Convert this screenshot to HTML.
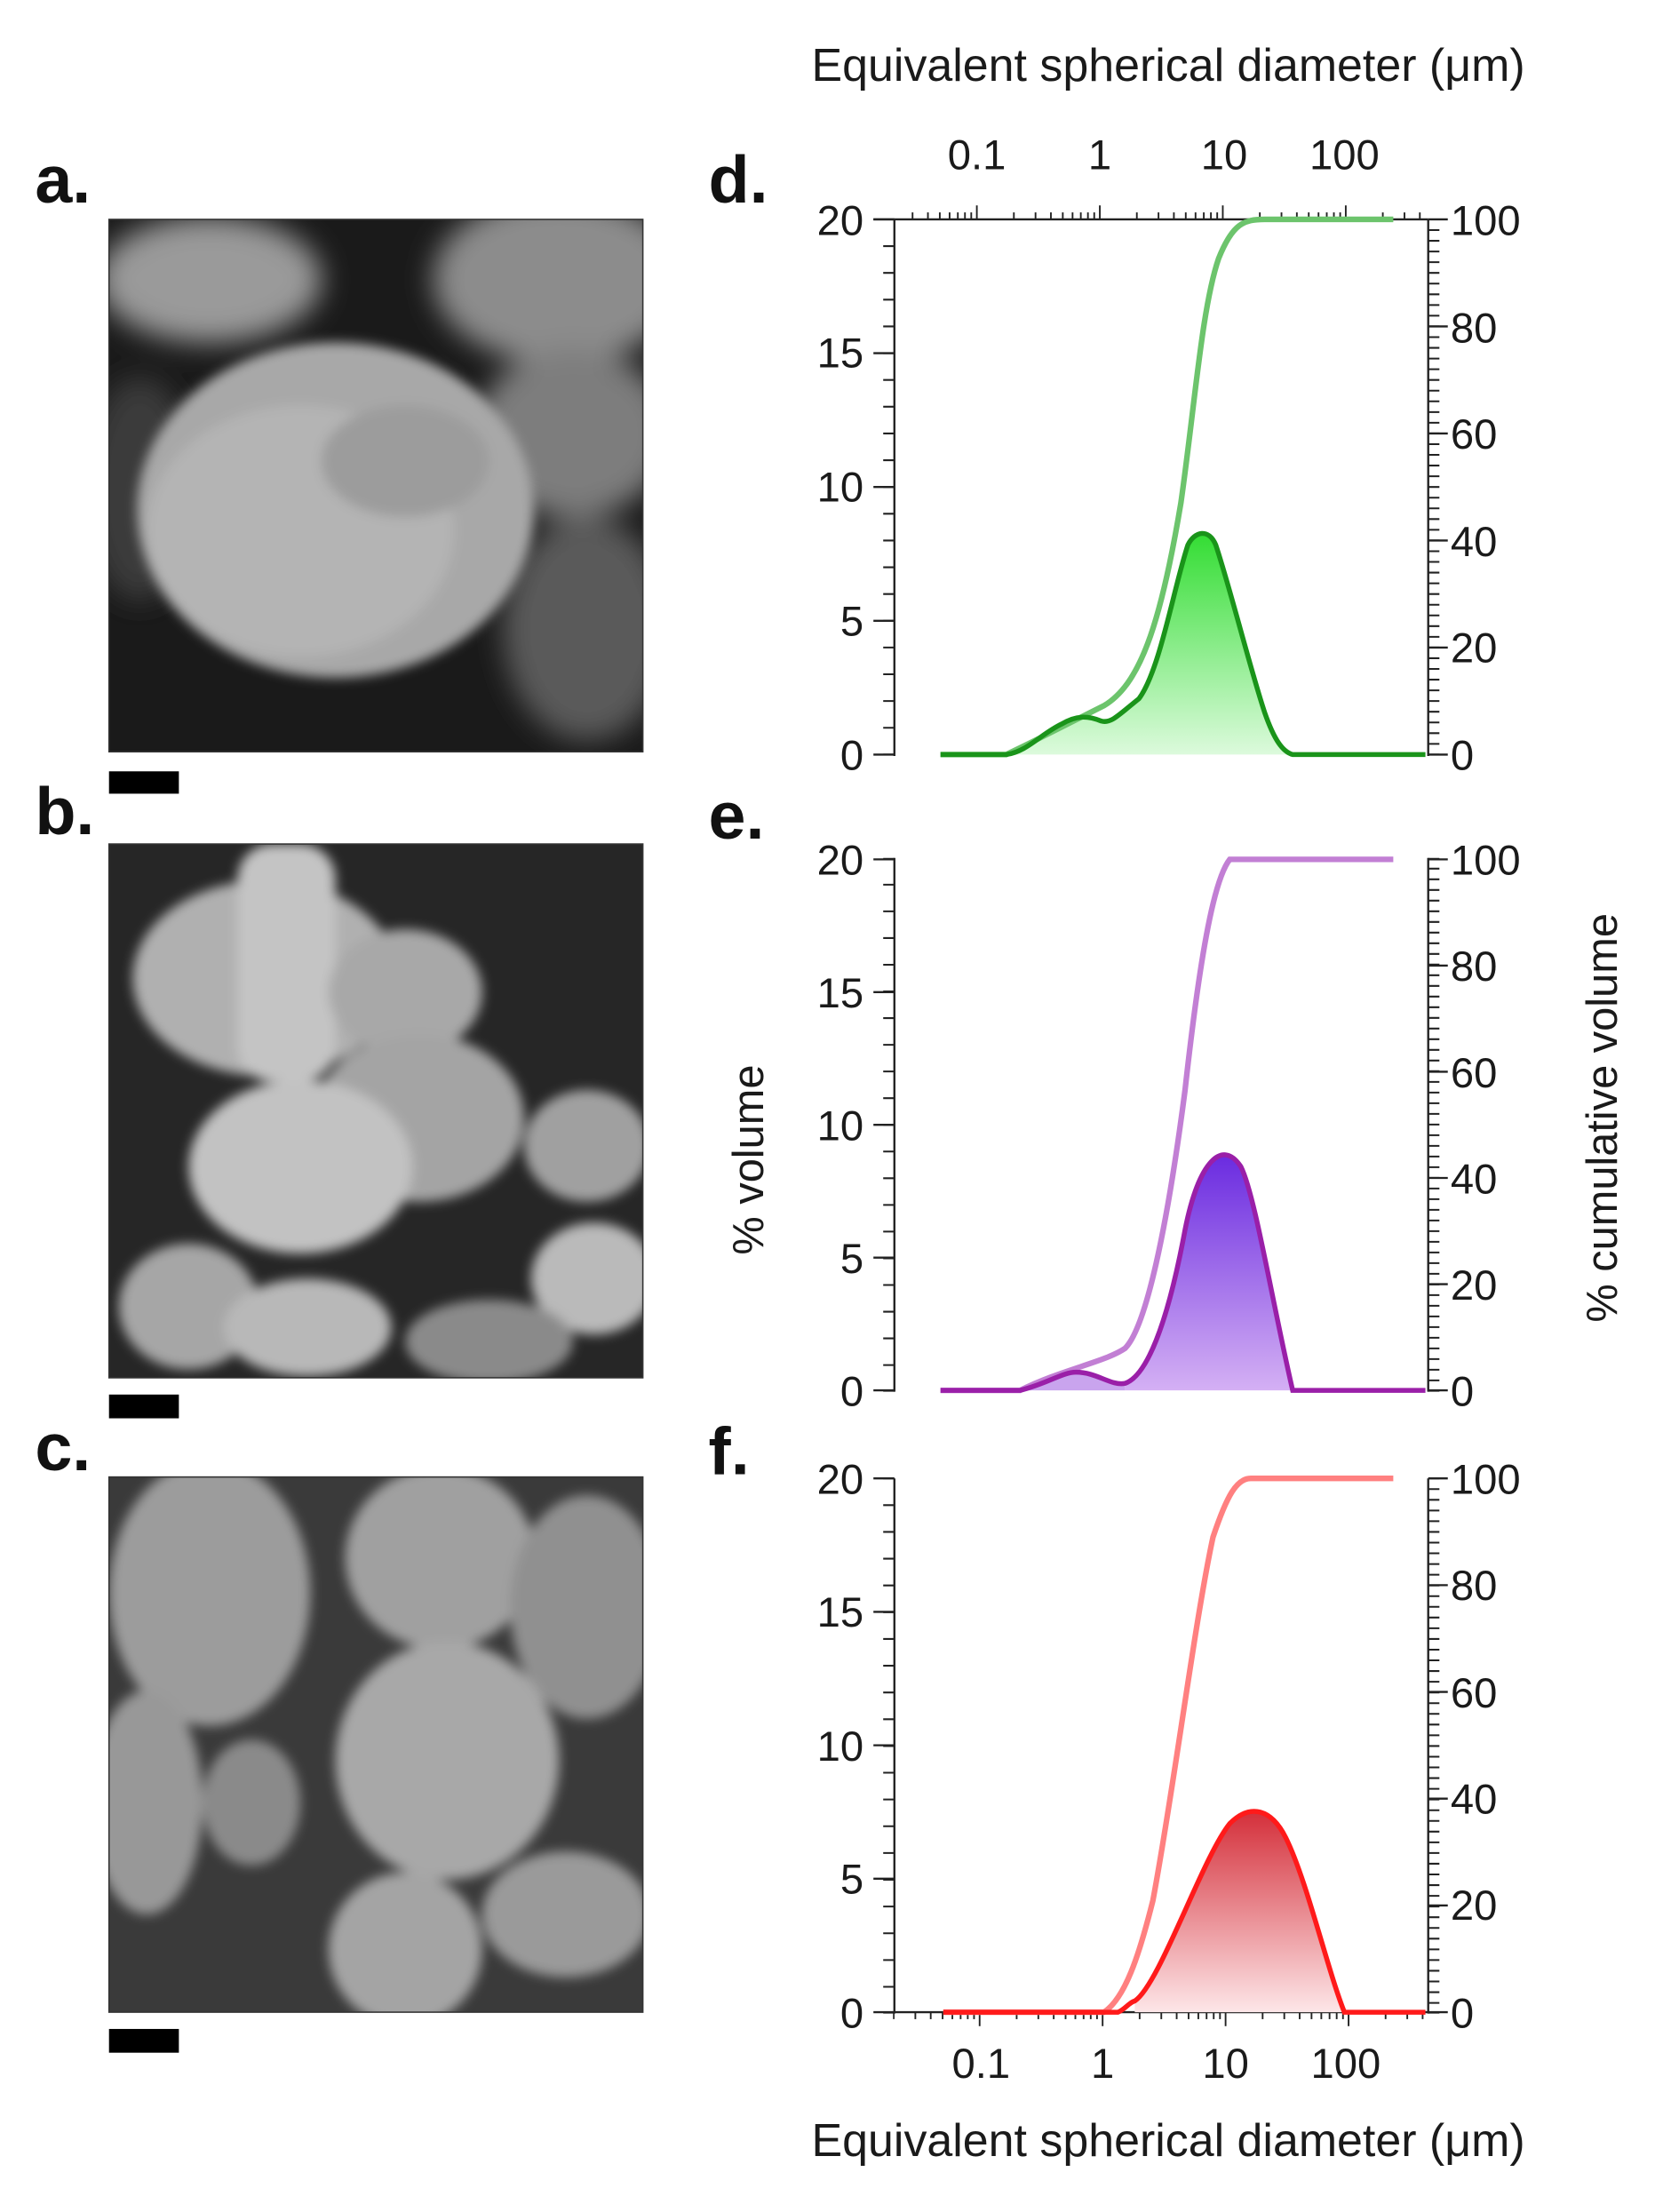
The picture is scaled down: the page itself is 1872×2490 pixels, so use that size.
<!DOCTYPE html>
<html><head><meta charset="utf-8"><style>
html,body{margin:0;padding:0;background:#fff;}
svg{display:block;}
text{font-family:"Liberation Sans",sans-serif;fill:#1a1a1a;}
</style></head><body>
<svg width="1872" height="2490" viewBox="0 0 1190 1583" preserveAspectRatio="none" xmlns="http://www.w3.org/2000/svg">
<defs>
<filter id="bl" x="-20%" y="-20%" width="140%" height="140%"><feGaussianBlur stdDeviation="4"/></filter>
<filter id="bl2"><feGaussianBlur stdDeviation="10"/></filter>
<linearGradient id="gG" x1="0" y1="0" x2="0" y2="1"><stop offset="0" stop-color="#33dd33"/><stop offset="1" stop-color="#dcfadc"/></linearGradient>
<linearGradient id="gP" x1="0" y1="0" x2="0" y2="1"><stop offset="0" stop-color="#6a2be0"/><stop offset="1" stop-color="#d4b0f4"/></linearGradient>
<linearGradient id="gR" x1="0" y1="0" x2="0" y2="1"><stop offset="0" stop-color="#d42f3a"/><stop offset="1" stop-color="#fde6e8"/></linearGradient>
<clipPath id="ca"><rect x="78" y="157" width="382" height="381"/></clipPath>
<clipPath id="cb"><rect x="78" y="604" width="382" height="382"/></clipPath>
<clipPath id="cc"><rect x="78" y="1057" width="382" height="383"/></clipPath>
<g id="dec" stroke="#222" stroke-width="1.2">
<line x1="26.5" y1="0" x2="26.5" y2="5"/><line x1="42" y1="0" x2="42" y2="5"/><line x1="53" y1="0" x2="53" y2="5"/><line x1="61.5" y1="0" x2="61.5" y2="5"/><line x1="68.5" y1="0" x2="68.5" y2="5"/><line x1="74.4" y1="0" x2="74.4" y2="5"/><line x1="79.5" y1="0" x2="79.5" y2="5"/><line x1="84" y1="0" x2="84" y2="5"/><line x1="88" y1="0" x2="88" y2="10"/>
</g>
<clipPath id="cx"><rect x="639" y="0" width="384" height="1583"/></clipPath>
</defs>

<!-- SEM a -->
<g clip-path="url(#ca)">
<rect x="78" y="157" width="382" height="381" fill="#1a1a1a"/>
<g filter="url(#bl2)">
<ellipse cx="150" cy="200" rx="80" ry="45" fill="#9a9a9a"/>
<ellipse cx="400" cy="200" rx="90" ry="60" fill="#8c8c8c"/>
<ellipse cx="410" cy="310" rx="70" ry="60" fill="#7d7d7d"/>
<ellipse cx="420" cy="450" rx="60" ry="80" fill="#5a5a5a"/>
<ellipse cx="100" cy="350" rx="40" ry="80" fill="#3a3a3a"/>
</g>
<g filter="url(#bl)">
<ellipse cx="240" cy="365" rx="142" ry="120" fill="#a8a8a8"/>
<ellipse cx="215" cy="380" rx="110" ry="90" fill="#b4b4b4"/>
<ellipse cx="290" cy="330" rx="60" ry="40" fill="#9c9c9c"/>
</g>
</g>
<rect x="78" y="157" width="382" height="381" fill="none" stroke="#333" stroke-width="1"/>
<rect x="78" y="552" width="50" height="16" fill="#000"/>

<!-- SEM b -->
<g clip-path="url(#cb)">
<rect x="78" y="604" width="382" height="382" fill="#262626"/>
<g filter="url(#bl)">
<ellipse cx="190" cy="700" rx="95" ry="70" fill="#b0b0b0"/>
<rect x="170" y="604" width="70" height="170" rx="25" fill="#c4c4c4"/>
<ellipse cx="290" cy="710" rx="55" ry="45" fill="#a8a8a8"/>
<ellipse cx="300" cy="800" rx="75" ry="60" fill="#a4a4a4"/>
<ellipse cx="215" cy="835" rx="80" ry="62" fill="#c2c2c2"/>
<ellipse cx="420" cy="820" rx="45" ry="40" fill="#a0a0a0"/>
<ellipse cx="425" cy="915" rx="45" ry="40" fill="#bababa"/>
<ellipse cx="135" cy="935" rx="50" ry="45" fill="#a6a6a6"/>
<ellipse cx="220" cy="950" rx="60" ry="35" fill="#b8b8b8"/>
<ellipse cx="350" cy="960" rx="60" ry="30" fill="#8a8a8a"/>
</g>
</g>
<rect x="78" y="604" width="382" height="382" fill="none" stroke="#333" stroke-width="1"/>
<rect x="78" y="998" width="50" height="17" fill="#000"/>

<!-- SEM c -->
<g clip-path="url(#cc)">
<rect x="78" y="1057" width="382" height="383" fill="#3a3a3a"/>
<g filter="url(#bl)">
<ellipse cx="150" cy="1140" rx="72" ry="95" fill="#9c9c9c"/>
<ellipse cx="315" cy="1115" rx="68" ry="65" fill="#a0a0a0"/>
<ellipse cx="420" cy="1150" rx="55" ry="80" fill="#909090"/>
<ellipse cx="105" cy="1290" rx="40" ry="80" fill="#989898"/>
<ellipse cx="180" cy="1290" rx="35" ry="45" fill="#8a8a8a"/>
<ellipse cx="320" cy="1260" rx="80" ry="85" fill="#a8a8a8"/>
<ellipse cx="290" cy="1395" rx="55" ry="55" fill="#a4a4a4"/>
<ellipse cx="405" cy="1370" rx="60" ry="45" fill="#9a9a9a"/>
</g>
</g>
<rect x="78" y="1057" width="382" height="383" fill="none" stroke="#333" stroke-width="1"/>
<rect x="78" y="1452" width="50" height="17" fill="#000"/>

<g font-weight="bold" font-size="48">
<text x="25" y="145" style="fill:#111">a.</text>
<text x="25" y="597" style="fill:#111">b.</text>
<text x="25" y="1052" style="fill:#111">c.</text>
<text x="507" y="145" style="fill:#111">d.</text>
<text x="507" y="600" style="fill:#111">e.</text>
<text x="507" y="1055" style="fill:#111">f.</text>
</g>

<text x="836" y="58" font-size="33" text-anchor="middle">Equivalent spherical diameter (μm)</text>
<text x="836" y="1543" font-size="33" text-anchor="middle">Equivalent spherical diameter (μm)</text>
<text transform="translate(546,830) rotate(-90)" font-size="31" text-anchor="middle">% volume</text>
<text transform="translate(1157,800) rotate(-90)" font-size="31" text-anchor="middle">%  cumulative volume</text>

<g stroke="#222" fill="none">
 <line x1="640" y1="157" x2="640" y2="541" stroke-width="1.5"/>
 <line x1="1022" y1="157" x2="1022" y2="541" stroke-width="1.5"/>
 <line x1="625" y1="157" x2="1022" y2="157" stroke-width="1.5"/>
 <line x1="636" y1="157" x2="636" y2="541" stroke-width="8" stroke-dasharray="1.3 17.85" stroke-dashoffset="0.65"/>
 <line x1="1026" y1="157" x2="1026" y2="541" stroke-width="8" stroke-dasharray="1.3 6.36" stroke-dashoffset="0.65"/>
 <line x1="640" y1="614" x2="640" y2="996" stroke-width="1.5"/>
 <line x1="1022" y1="614" x2="1022" y2="996" stroke-width="1.5"/>
 <line x1="636" y1="614" x2="636" y2="996" stroke-width="8" stroke-dasharray="1.3 17.8" stroke-dashoffset="0.65"/>
 <line x1="1026" y1="614" x2="1026" y2="996" stroke-width="8" stroke-dasharray="1.3 6.33" stroke-dashoffset="0.65"/>
 <line x1="640" y1="1058" x2="640" y2="1441" stroke-width="1.5"/>
 <line x1="1022" y1="1058" x2="1022" y2="1441" stroke-width="1.5"/>
 <line x1="640" y1="1440" x2="1022" y2="1440" stroke-width="1.5"/>
 <line x1="636" y1="1058" x2="636" y2="1441" stroke-width="8" stroke-dasharray="1.3 17.85" stroke-dashoffset="0.65"/>
 <line x1="1026" y1="1058" x2="1026" y2="1441" stroke-width="8" stroke-dasharray="1.3 6.36" stroke-dashoffset="0.65"/>
</g>
<g stroke="#222" stroke-width="1.5">
 <line x1="625" y1="157" x2="640" y2="157"/><line x1="625" y1="252.75" x2="640" y2="252.75"/><line x1="625" y1="348.5" x2="640" y2="348.5"/><line x1="625" y1="444.25" x2="640" y2="444.25"/><line x1="625" y1="540" x2="640" y2="540"/>
 <line x1="1022" y1="157" x2="1036" y2="157"/><line x1="1022" y1="233.6" x2="1036" y2="233.6"/><line x1="1022" y1="310.2" x2="1036" y2="310.2"/><line x1="1022" y1="386.8" x2="1036" y2="386.8"/><line x1="1022" y1="463.4" x2="1036" y2="463.4"/><line x1="1022" y1="540" x2="1036" y2="540"/>
 <line x1="625" y1="615" x2="640" y2="615"/><line x1="625" y1="710" x2="640" y2="710"/><line x1="625" y1="805" x2="640" y2="805"/><line x1="625" y1="900" x2="640" y2="900"/><line x1="625" y1="995" x2="640" y2="995"/>
 <line x1="1022" y1="615" x2="1036" y2="615"/><line x1="1022" y1="691" x2="1036" y2="691"/><line x1="1022" y1="767" x2="1036" y2="767"/><line x1="1022" y1="843" x2="1036" y2="843"/><line x1="1022" y1="919" x2="1036" y2="919"/><line x1="1022" y1="995" x2="1036" y2="995"/>
 <line x1="625" y1="1058" x2="640" y2="1058"/><line x1="625" y1="1153.5" x2="640" y2="1153.5"/><line x1="625" y1="1249" x2="640" y2="1249"/><line x1="625" y1="1344.5" x2="640" y2="1344.5"/><line x1="625" y1="1440" x2="640" y2="1440"/>
 <line x1="1022" y1="1058" x2="1036" y2="1058"/><line x1="1022" y1="1134.4" x2="1036" y2="1134.4"/><line x1="1022" y1="1210.8" x2="1036" y2="1210.8"/><line x1="1022" y1="1287.2" x2="1036" y2="1287.2"/><line x1="1022" y1="1363.6" x2="1036" y2="1363.6"/><line x1="1022" y1="1440" x2="1036" y2="1440"/>
</g>
<g clip-path="url(#cx)">
 <g transform="translate(0,157) scale(1,-1)">
  <use href="#dec" x="611"/><use href="#dec" x="699"/><use href="#dec" x="787"/><use href="#dec" x="875"/><use href="#dec" x="963"/>
 </g>
 <g transform="translate(2,1440)">
  <use href="#dec" x="611"/><use href="#dec" x="699"/><use href="#dec" x="787"/><use href="#dec" x="875"/><use href="#dec" x="963"/>
 </g>
</g>

<g font-size="30">
 <g text-anchor="end">
  <text x="618" y="168">20</text><text x="618" y="263">15</text><text x="618" y="359">10</text><text x="618" y="455">5</text><text x="618" y="551">0</text>
  <text x="618" y="626">20</text><text x="618" y="721">15</text><text x="618" y="816">10</text><text x="618" y="911">5</text><text x="618" y="1006">0</text>
  <text x="618" y="1069">20</text><text x="618" y="1164">15</text><text x="618" y="1260">10</text><text x="618" y="1355">5</text><text x="618" y="1451">0</text>
 </g>
 <g>
  <text x="1038" y="168">100</text><text x="1038" y="245">80</text><text x="1038" y="321">60</text><text x="1038" y="398">40</text><text x="1038" y="474">20</text><text x="1038" y="551">0</text>
  <text x="1038" y="626">100</text><text x="1038" y="702">80</text><text x="1038" y="778">60</text><text x="1038" y="854">40</text><text x="1038" y="930">20</text><text x="1038" y="1006">0</text>
  <text x="1038" y="1069">100</text><text x="1038" y="1145">80</text><text x="1038" y="1222">60</text><text x="1038" y="1298">40</text><text x="1038" y="1374">20</text><text x="1038" y="1451">0</text>
 </g>
 <g text-anchor="middle">
  <text x="699" y="121">0.1</text><text x="787" y="121">1</text><text x="876" y="121">10</text><text x="962" y="121">100</text>
  <text x="702" y="1487">0.1</text><text x="789" y="1487">1</text><text x="877" y="1487">10</text><text x="963" y="1487">100</text>
 </g>
</g>

<path d="M720,540 C735,538 745,525 760,518 C770,512 778,512 788,516 C795,518 800,512 815,500 C830,480 840,420 850,390 C855,380 865,378 870,390 C880,420 895,480 905,510 C912,530 918,538 925,540 Z" fill="url(#gG)"/>
<path d="M673,540 L720,540 C745,528 770,515 790,505 C815,490 830,450 845,360 C855,290 860,220 872,185 C882,160 890,157 905,157 L997,157" fill="none" stroke="#6cc46c" stroke-width="4"/>
<path d="M673,540 L720,540 C735,538 745,525 760,518 C770,512 778,512 788,516 C795,518 800,512 815,500 C830,480 840,420 850,390 C855,380 865,378 870,390 C880,420 895,480 905,510 C912,530 918,538 925,540 L1020,540" fill="none" stroke="#1a941a" stroke-width="3.5"/>

<path d="M805,990 C820,985 835,950 848,880 C858,830 875,815 888,835 C898,855 910,930 925,995 L805,995 Z" fill="url(#gP)"/>
<path d="M730,995 C750,990 760,982 770,982 C785,982 795,992 805,990 L805,995 Z" fill="#c9a4ee"/>
<path d="M673,995 L730,995 C760,980 790,975 805,965 C820,950 835,880 848,780 C858,690 868,630 880,615 L997,615" fill="none" stroke="#c27fd4" stroke-width="4"/>
<path d="M673,995 L730,995 C750,990 760,982 770,982 C785,982 795,992 805,990 C820,985 835,950 848,880 C858,830 875,815 888,835 C898,855 910,930 925,995 L1020,995" fill="none" stroke="#9a1fa8" stroke-width="3.5"/>

<path d="M812,1432 C830,1420 860,1330 880,1305 C895,1290 910,1295 920,1315 C935,1345 950,1410 962,1440 L812,1440 Z" fill="url(#gR)"/>
<path d="M675,1440 L790,1440 C805,1430 815,1400 825,1360 C840,1280 855,1160 868,1100 C878,1070 885,1058 895,1058 L997,1058" fill="none" stroke="#ff8080" stroke-width="4"/>
<path d="M675,1440 L800,1440 C805,1438 808,1433 812,1432 C830,1420 860,1330 880,1305 C895,1290 910,1295 920,1315 C935,1345 950,1410 962,1440 L1020,1440" fill="none" stroke="#ff1a1a" stroke-width="3.5"/>
</svg>
</body></html>
